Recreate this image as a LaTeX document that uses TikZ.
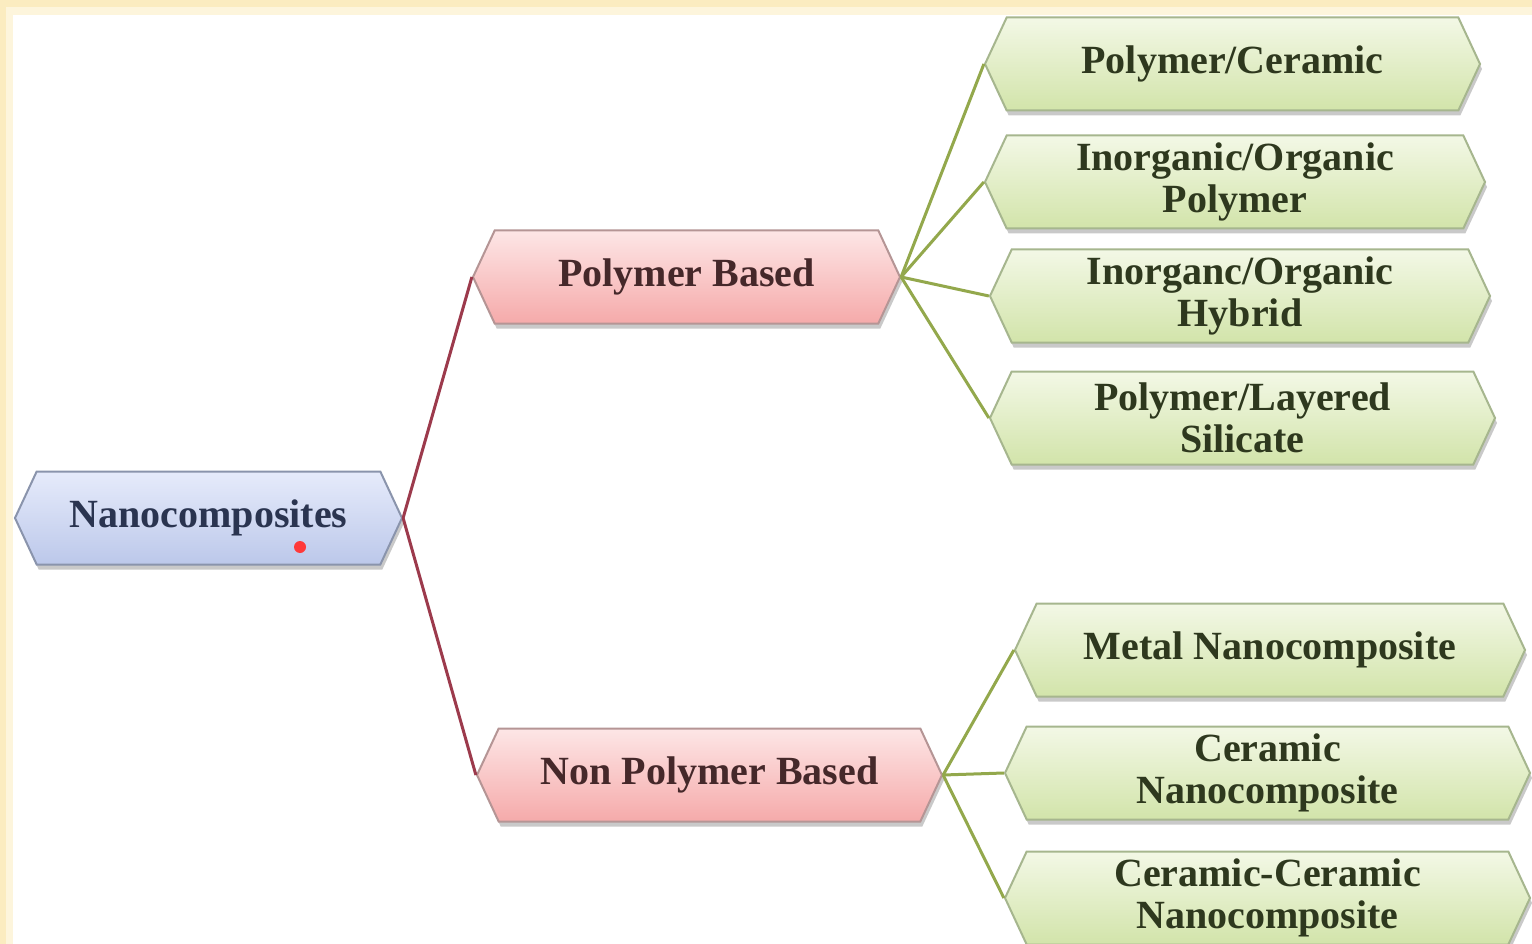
\documentclass[tikz,border=0pt]{standalone}
\usepackage{fontspec}
\setmainfont{Liberation Serif}
\usetikzlibrary{shapes.symbols,shadows}
\definecolor{cream}{HTML}{FBECC0}
\definecolor{creamlight}{HTML}{FDF5DC}
\definecolor{bluetop}{HTML}{E6EBFB}
\definecolor{bluebot}{HTML}{BCC8EA}
\definecolor{blueline}{HTML}{8A94AC}
\definecolor{bluetext}{HTML}{2A3450}
\definecolor{pinktop}{HTML}{FDE6E6}
\definecolor{pinkbot}{HTML}{F5AAAA}
\definecolor{pinkline}{HTML}{B59595}
\definecolor{pinktext}{HTML}{45282A}
\definecolor{greentop}{HTML}{F3F8E6}
\definecolor{greenbot}{HTML}{D2E4AA}
\definecolor{greenline}{HTML}{A6B68E}
\definecolor{greentext}{HTML}{2E381E}
\definecolor{redconn}{HTML}{9C3A4C}
\definecolor{greenconn}{HTML}{93A84C}
\tikzset{
  hexbox/.style={shape=signal, signal to=west and east, signal pointer angle=130,
    minimum height=93pt, inner sep=0pt, align=center,
    font=\fontsize{40}{42}\selectfont\bfseries, line width=2pt,
    drop shadow={shadow xshift=2pt, shadow yshift=-5pt, opacity=0.35, fill=black!60}},
  rootbox/.style={hexbox, draw=blueline, top color=bluetop, bottom color=bluebot, text=bluetext},
  midbox/.style={hexbox, draw=pinkline, top color=pinktop, bottom color=pinkbot, text=pinktext},
  leafbox/.style={hexbox, draw=greenline, top color=greentop, bottom color=greenbot, text=greentext},
  redlink/.style={draw=redconn, line width=3pt},
  greenlink/.style={draw=greenconn, line width=3pt}
}
\begin{document}
\begin{tikzpicture}[x=1pt,y=-1pt]
\useasboundingbox (0,0) rectangle (1532,944);
\fill[cream] (0,0) rectangle (1532,944);
\fill[creamlight] (6,7) rectangle (1532,944);
\fill[white] (13,15) rectangle (1532,944);

\node[rootbox, minimum width=387pt] (nano) at (208.5,518) {Nanocomposites};
\node[midbox, minimum width=427pt] (pb) at (686.5,277) {Polymer Based};
\node[midbox, minimum width=465pt] (npb) at (709.5,775) {Non Polymer Based};

\node[leafbox, minimum width=495pt] (pc) at (1232.5,64) {Polymer/Ceramic};
\node[leafbox, minimum width=500pt] (iop) at (1235,182) {Inorganic/Organic\\Polymer};
\node[leafbox, minimum width=500pt] (ioh) at (1240,296) {Inorganc/Organic\\Hybrid};
\node[leafbox, minimum width=505pt] (pls) at (1242.5,418) {Polymer/Layered\\Silicate};
\node[leafbox, minimum width=510pt] (mn) at (1270,650) {Metal Nanocomposite};
\node[leafbox, minimum width=525pt] (cn) at (1267.5,773) {Ceramic\\Nanocomposite};
\node[leafbox, minimum width=525pt] (ccn) at (1267.5,898) {Ceramic-Ceramic\\Nanocomposite};

\fill[red!70!pink] (300,547) circle (6);

\draw[redlink] (nano.east) -- (pb.west);
\draw[redlink] (nano.east) -- (npb.west);
\foreach \t in {pc,iop,ioh,pls} \draw[greenlink] (pb.east) -- (\t.west);
\foreach \t in {mn,cn,ccn} \draw[greenlink] (npb.east) -- (\t.west);
\end{tikzpicture}
\end{document}
